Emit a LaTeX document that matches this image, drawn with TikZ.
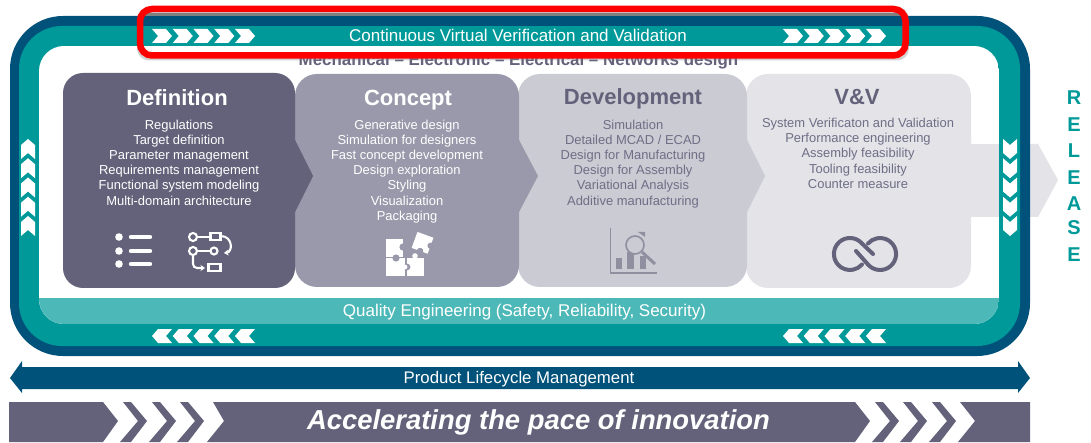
\documentclass[tikz,border=0pt]{standalone}
\usepackage{fontspec}
\setmainfont{Liberation Sans}
\usetikzlibrary{arrows.meta}
\definecolor{navy}{HTML}{00527A}
\definecolor{tealm}{HTML}{009999}
\definecolor{teall}{HTML}{4DB8B8}
\definecolor{slateA}{HTML}{63627A}
\definecolor{slateB}{HTML}{9A99AB}
\definecolor{slateC}{HTML}{CBCBD4}
\definecolor{slateD}{HTML}{E3E3E8}
\definecolor{bodyC}{HTML}{6E6E86}
\definecolor{iconC}{HTML}{8F8F9F}
\newcommand{\stagebox}[7]{% x0,x1,tipx,y0,y1,colour,radius
  \fill[#6,rounded corners=#7pt] (#1,#4) rectangle (#2,#5);
  \fill[#6] (#2-1,140) -- (#2,140) -- (#3,176) -- (#2,212) -- (#2-1,212) -- cycle;}
\newcommand{\chev}[3]{\fill[white,shift={(#1,#2)},rotate=#3] (-10,-7) -- (4,-7) -- (10,0) -- (4,7) -- (-10,7) -- (-4,0) -- cycle;}
\newcommand{\bandchev}[1]{\fill[slateA,shift={(#1,0)}] (0,402) -- (8,402) -- (24,421) -- (8,442) -- (-3,442) -- (15,421) -- cycle;}
\tikzset{
  stagetitle/.style={font=\fontsize{22}{24}\selectfont\bfseries,anchor=base,inner sep=0pt},
  stagebody/.style={font=\fontsize{12.95}{15.2}\selectfont,align=center,anchor=north,inner sep=0pt},
  bandtext/.style={font=\fontsize{17}{18}\selectfont,text=white,inner sep=0pt},
  releaseletter/.style={font=\fontsize{20}{22}\selectfont\bfseries,text=tealm,inner sep=0pt},
  iconline/.style={white,line width=2.1pt,line cap=round},
}
\begin{document}
\begin{tikzpicture}[x=1pt,y=-1pt]
\useasboundingbox (0,0) rectangle (1091,443);
\fill[white] (0,0) rectangle (1091,443);
% release arrow, outer part
\fill[slateD] (971,144) -- (1038,144) -- (1058,180) -- (1038,217) -- (971,217) -- cycle;
% frame
\fill[navy,rounded corners=53pt] (10,16) rectangle (1030,356);
\fill[tealm,rounded corners=43pt] (19,26) rectangle (1020,346);
\begin{scope}
  \clip[rounded corners=25pt] (39,46) rectangle (999,324);
  \fill[white] (39,46) rectangle (999,324);
  \fill[teall] (39,298) rectangle (999,324);
\end{scope}
\fill[slateD] (971,144) rectangle (999,217);
% header text (partly hidden by the red frame)
\node[font=\fontsize{16.9}{18}\selectfont\bfseries,text=slateA,inner sep=0pt,anchor=base] (disc) at (518.5,66) {Mechanical – Electronic – Electrical – Networks design};
% stages
\stagebox{746}{971}{971}{74}{288}{slateD}{22}
\stagebox{518}{747}{765}{74}{287}{slateC}{22}
\stagebox{295}{519}{538}{74}{287}{slateB}{22}
\stagebox{63}{295}{313}{73}{288}{slateA}{20}
\node[stagetitle,text=white] (t1) at (177,106) {Definition};
\node[stagetitle,text=white] (t2) at (408,105.5) {Concept};
\node[stagetitle,text=slateA] (t3) at (633,105) {Development};
\node[stagetitle,text=slateA] (t4) at (857,105) {V\&V};
\node[stagebody,text=white] (b1) at (179,119.5) {Regulations\\Target definition\\Parameter management\\Requirements management\\Functional system modeling\\Multi-domain architecture};
\node[stagebody,text=white] (b2) at (407,119.5) {Generative design\\Simulation for designers\\Fast concept development\\Design exploration\\Styling\\Visualization\\Packaging};
\node[stagebody,text=bodyC] (b3) at (633,119.5) {Simulation\\Detailed MCAD / ECAD\\Design for Manufacturing\\Design for Assembly\\Variational Analysis\\Additive manufacturing};
\node[stagebody,text=bodyC] (b4) at (858,118) {System Verificaton and Validation\\Performance engineering\\Assembly feasibility\\Tooling feasibility\\Counter measure};
% list icon
\foreach \yy in {237,251,264} {
  \fill[white] (119,\yy) circle[radius=3.8pt];
  \draw[white,line width=4.4pt,line cap=round] (131,\yy) -- (150,\yy);
}
% flow icon
\draw[iconline] (193,237) circle[radius=4pt];
\draw[iconline] (197,237) -- (210,237);
\draw[iconline,line cap=butt] (210.5,233) rectangle (220.5,240);
\draw[iconline,-{Stealth[length=4.5pt,width=6pt]}] (220.5,236) .. controls (233,236) and (233,252) .. (224,253);
\draw[iconline] (193,251) circle[radius=4pt];
\draw[iconline] (197,251) -- (210.5,251);
\draw[iconline] (214,251) circle[radius=3.5pt];
\draw[iconline,-{Stealth[length=4.5pt,width=6pt]},rounded corners=4pt] (193,255) -- (193,268) -- (205,268);
\draw[iconline,line cap=butt] (208.5,264) rectangle (220.5,271);
% puzzle icon
\begin{scope}
  \fill[white] (386,239) rectangle (403,257);
  \fill[slateB] (403,247) circle[radius=3.6pt];
  \fill[white] (386,258) rectangle (405,276);
  \fill[slateB] (396,258) circle[radius=3.6pt];
  \fill[white] (407,258) rectangle (424,276);
  \fill[white] (415,256) circle[radius=2.8pt];
  \fill[slateB] (407,267) circle[radius=3.4pt];
  \fill[white] (405,267) circle[radius=2.4pt];
  \fill[white,rotate around={-20:(423,243)}] (414,234.5) rectangle (431,251.5);
  \fill[slateB,rotate around={-20:(423,243)}] (431,243) circle[radius=3.2pt];
  \fill[slateB,rotate around={-20:(423,243)}] (423,251.5) circle[radius=3.2pt];
\end{scope}
% analysis icon
\draw[iconC,line width=1.5pt] (610.5,228) -- (610.5,273) -- (657,273);
\fill[iconC] (616,258) rectangle (622,269);
\fill[iconC] (627,252) rectangle (634,269);
\fill[iconC] (640,256) rectangle (646,269);
\fill[iconC] (638,232) -- (645,232) -- (645,237) -- cycle;
\draw[iconC,line width=1.6pt,fill=slateC] (635,245) circle[radius=9pt];
\draw[iconC,line width=3pt] (642,252) -- (655,264);
% link icon
\draw[slateA,line width=4pt,line cap=round] (873,254) -- (862,243.5) arc[start angle=41,end angle=319,radius=16pt];
\draw[slateA,line width=4pt,line cap=round] (856,251) -- (868,264.5) arc[start angle=221,end angle=499,radius=16pt];
% side and bottom chevrons
\foreach \cx in {162,182.75,203.5,224.25,245,793,813.75,834.5,855.25,876} {
  \chev{\cx}{336}{180}
}
\foreach \cy in {149,168.25,187.5,206.75,226} {
  \chev{28}{\cy}{90}
  \chev{1010}{\cy}{-90}
}
\node[bandtext] (qual) at (524.5,312) {Quality Engineering (Safety, Reliability, Security)};
% release
\foreach \l/\yy/\n in {R/98/r1,E/124.5/r2,L/151/r3,E/178/r4,A/204/r5,S/228/r6,E/255/r7} {
  \node[releaseletter] (\n) at (1074,\yy) {\l};
}
% PLM arrow
\fill[navy] (10,378) -- (22,361) -- (22,367) -- (1018,367) -- (1018,361) -- (1030,378) -- (1018,393) -- (1018,389) -- (22,389) -- (22,393) -- cycle;
\node[bandtext,font=\fontsize{16.8}{18}\selectfont] (plm) at (519,379) {Product Lifecycle Management};
% bottom band
\fill[slateA] (9,402) -- (103,402) -- (118,421) -- (103,442) -- (9,442) -- cycle;
\bandchev{123}\bandchev{152}\bandchev{180}
\fill[slateA] (213,402) -- (855,402) -- (870,421) -- (855,442) -- (207,442) -- (224,421) -- cycle;
\bandchev{875}\bandchev{903}\bandchev{932}
\fill[slateA] (960,402) -- (1030,402) -- (1030,442) -- (958,442) -- (975,421) -- cycle;
\node[font=\fontsize{27.4}{30}\selectfont\bfseries\itshape,text=white,inner sep=0pt] (acc) at (538.5,422.5) {Accelerating the pace of innovation};
% red highlight
\fill[gray,opacity=.35,rounded corners=12pt] (137,7) rectangle (909,60.5);
\fill[gray] (143,13.5) rectangle (902,16);
\fill[navy] (143,16) rectangle (902,26);
\fill[tealm] (143,26) rectangle (902,46);
\fill[white] (143,46) rectangle (902,52);
\foreach \cx in {162,182.75,203.5,224.25,245,793,813.75,834.5,855.25,876} {\chev{\cx}{36}{0}}
\node[bandtext] (verif) at (518,35.5) {Continuous Virtual Verification and Validation};
\draw[red,line width=6.5pt,rounded corners=12pt] (140,9) rectangle (905.5,55.5);
\end{tikzpicture}
\end{document}
